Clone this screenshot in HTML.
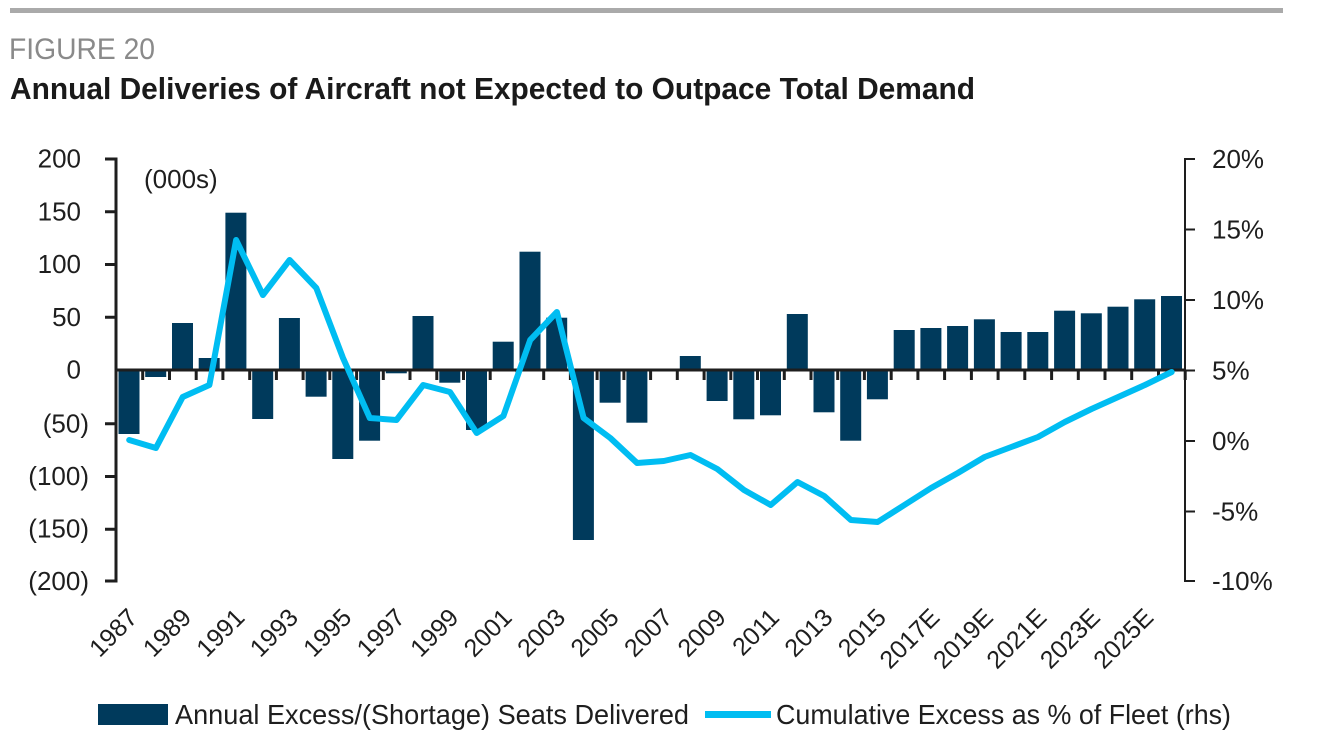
<!DOCTYPE html>
<html><head><meta charset="utf-8"><style>
html,body{margin:0;padding:0;background:#fff;}
svg{display:block;font-family:"Liberation Sans",sans-serif;}
</style></head><body>
<svg width="1340" height="746" viewBox="0 0 1340 746" xmlns="http://www.w3.org/2000/svg">
<rect x="0" y="0" width="1340" height="746" fill="#fff"/>
<rect x="10" y="8" width="1273" height="5" fill="#aaaaaa"/>
<text x="9" y="59" font-size="30" fill="#8a8a8a" textLength="146" lengthAdjust="spacingAndGlyphs">FIGURE 20</text>
<text x="10" y="99" font-size="31" font-weight="bold" fill="#1a1a1a" textLength="965" lengthAdjust="spacingAndGlyphs">Annual Deliveries of Aircraft not Expected to Outpace Total Demand</text>

<g fill="#003a5c">
<rect x="118.5" y="370" width="21" height="64"/>
<rect x="145.2" y="370" width="21" height="7"/>
<rect x="172.0" y="323" width="21" height="47"/>
<rect x="198.7" y="358" width="21" height="12"/>
<rect x="225.4" y="212.7" width="21" height="157.3"/>
<rect x="252.2" y="370" width="21" height="49"/>
<rect x="278.9" y="318" width="21" height="52"/>
<rect x="305.6" y="370" width="21" height="26.7"/>
<rect x="332.3" y="370" width="21" height="89"/>
<rect x="359.1" y="370" width="21" height="70.7"/>
<rect x="385.8" y="370" width="21" height="3.3"/>
<rect x="412.5" y="316" width="21" height="54"/>
<rect x="439.3" y="370" width="21" height="12.7"/>
<rect x="466.0" y="370" width="21" height="60"/>
<rect x="492.7" y="341.7" width="21" height="28.3"/>
<rect x="519.5" y="251.7" width="21" height="118.3"/>
<rect x="546.2" y="317.7" width="21" height="52.3"/>
<rect x="572.9" y="370" width="21" height="170"/>
<rect x="599.6" y="370" width="21" height="32.7"/>
<rect x="626.4" y="370" width="21" height="52.7"/>
<rect x="679.8" y="356" width="21" height="14"/>
<rect x="706.6" y="370" width="21" height="31"/>
<rect x="733.3" y="370" width="21" height="49.3"/>
<rect x="760.0" y="370" width="21" height="45.3"/>
<rect x="786.8" y="314" width="21" height="56"/>
<rect x="813.5" y="370" width="21" height="42.3"/>
<rect x="840.2" y="370" width="21" height="70.7"/>
<rect x="866.9" y="370" width="21" height="29.3"/>
<rect x="893.7" y="330" width="21" height="40"/>
<rect x="920.4" y="328" width="21" height="42"/>
<rect x="947.1" y="326" width="21" height="44"/>
<rect x="973.9" y="319.3" width="21" height="50.7"/>
<rect x="1000.6" y="332" width="21" height="38"/>
<rect x="1027.3" y="332" width="21" height="38"/>
<rect x="1054.1" y="310.7" width="21" height="59.3"/>
<rect x="1080.8" y="313.3" width="21" height="56.7"/>
<rect x="1107.5" y="306.7" width="21" height="63.3"/>
<rect x="1134.2" y="299.3" width="21" height="70.7"/>
<rect x="1161.0" y="296" width="21" height="74"/>
</g>

<!-- zero line -->
<rect x="116" y="368.5" width="1070" height="3" fill="#1e1e1e"/>
<!-- category ticks -->
<g stroke="#1e1e1e" stroke-width="3">
<path d="M142.7 370V380M169.5 370V380M196.2 370V380M222.9 370V380M249.7 370V380M276.4 370V380M303.1 370V380M329.8 370V380M356.6 370V380M383.3 370V380M410.0 370V380M436.8 370V380M463.5 370V380M490.2 370V380M517.0 370V380M543.7 370V380M570.4 370V380M597.1 370V380M623.9 370V380M650.6 370V380M677.3 370V380M704.1 370V380M730.8 370V380M757.5 370V380M784.3 370V380M811.0 370V380M837.7 370V380M864.4 370V380M891.2 370V380M917.9 370V380M944.6 370V380M971.4 370V380M998.1 370V380M1024.8 370V380M1051.6 370V380M1078.3 370V380M1105.0 370V380M1131.7 370V380M1158.5 370V380M1185.2 370V380"/>
</g>

<!-- left axis -->
<g stroke="#1e1e1e" stroke-width="3">
<line x1="116" y1="157.5" x2="116" y2="582.5"/>
<path d="M105 159H116M105 211.75H116M105 264.5H116M105 317.25H116M105 423.75H116M105 476.5H116M105 529.25H116M105 581H116"/>
</g>
<!-- right axis -->
<g stroke="#1e1e1e" stroke-width="2">
<line x1="1185" y1="158" x2="1185" y2="582"/>
<path d="M1185 159H1195M1185 229.5H1195M1185 300H1195M1185 370.5H1195M1185 441H1195M1185 511.5H1195M1185 581H1195"/>
</g>

<!-- left labels -->
<g font-size="26" fill="#1e1e1e" text-anchor="end">
<text x="81" y="167.5">200</text>
<text x="81" y="220.5">150</text>
<text x="81" y="273">100</text>
<text x="81" y="326">50</text>
<text x="81" y="378.5">0</text>
<text x="89" y="432.5">(50)</text>
<text x="89" y="485">(100)</text>
<text x="89" y="537.5">(150)</text>
<text x="89" y="590">(200)</text>
</g>
<text x="144" y="188" font-size="26" fill="#1e1e1e">(000s)</text>

<!-- right labels -->
<g font-size="26" fill="#1e1e1e">
<text x="1212" y="168">20%</text>
<text x="1212" y="238.5">15%</text>
<text x="1212" y="309">10%</text>
<text x="1212" y="379.5">5%</text>
<text x="1212" y="450">0%</text>
<text x="1212" y="520.5">-5%</text>
<text x="1212" y="590">-10%</text>
</g>

<!-- x labels -->
<g font-size="25" fill="#1e1e1e" text-anchor="end">
<text transform="translate(139,619) rotate(-45)">1987</text>
<text transform="translate(192.7,619) rotate(-45)">1989</text>
<text transform="translate(246.1,619) rotate(-45)">1991</text>
<text transform="translate(299.6,619) rotate(-45)">1993</text>
<text transform="translate(353,619) rotate(-45)">1995</text>
<text transform="translate(406.5,619) rotate(-45)">1997</text>
<text transform="translate(460,619) rotate(-45)">1999</text>
<text transform="translate(513.4,619) rotate(-45)">2001</text>
<text transform="translate(566.9,619) rotate(-45)">2003</text>
<text transform="translate(620.3,619) rotate(-45)">2005</text>
<text transform="translate(673.8,619) rotate(-45)">2007</text>
<text transform="translate(727.3,619) rotate(-45)">2009</text>
<text transform="translate(780.7,619) rotate(-45)">2011</text>
<text transform="translate(834.2,619) rotate(-45)">2013</text>
<text transform="translate(887.6,619) rotate(-45)">2015</text>
<text transform="translate(941.1,619) rotate(-45)">2017E</text>
<text transform="translate(994.6,619) rotate(-45)">2019E</text>
<text transform="translate(1048,619) rotate(-45)">2021E</text>
<text transform="translate(1101.5,619) rotate(-45)">2023E</text>
<text transform="translate(1154.9,619) rotate(-45)">2025E</text>
</g>

<!-- cumulative line -->
<polyline fill="none" stroke="#00bdf2" stroke-width="6" stroke-linejoin="round" stroke-linecap="round"
points="129.2,440 155.9,448 182.7,397 209.4,385 236.1,240 262.9,295 289.6,260 316.3,288 343.0,358 369.8,418 396.5,420 423.2,385 450.0,392 476.7,433 503.4,416 530.2,340 556.9,312 583.6,418 610.3,438 637.1,463 663.8,461 690.5,455 717.3,469 744.0,490 770.7,505 797.5,482 824.2,496 850.9,520 877.6,522 904.4,505 931.1,488 957.8,473 984.6,457 1011.3,447 1038.0,437 1064.8,422 1091.5,409 1118.2,397 1144.9,385 1171.7,372"/>

<!-- legend -->
<rect x="98" y="704" width="70" height="21" fill="#003a5c"/>
<text x="175" y="724" font-size="28" fill="#1e1e1e" textLength="514" lengthAdjust="spacingAndGlyphs">Annual Excess/(Shortage) Seats Delivered</text>
<rect x="705" y="711" width="66" height="7" fill="#00bdf2"/>
<text x="776" y="724" font-size="28" fill="#1e1e1e" textLength="455" lengthAdjust="spacingAndGlyphs">Cumulative Excess as % of Fleet (rhs)</text>
</svg>
</body></html>
